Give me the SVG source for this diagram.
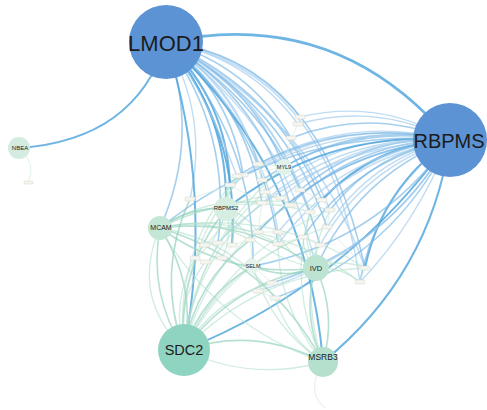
<svg xmlns="http://www.w3.org/2000/svg" width="487" height="410" viewBox="0 0 487 410">
<style>
path{fill:none;stroke-linecap:round}
.b1{stroke:#4aa2dc;stroke-width:2;stroke-opacity:.8}
.b2{stroke:#74b5e5;stroke-width:1.6;stroke-opacity:.65}
.b3{stroke:#a5cdee;stroke-width:1.4;stroke-opacity:.7}
.g1{stroke:#86ccb5;stroke-width:1.6;stroke-opacity:.6}
.g2{stroke:#b3dfcc;stroke-width:1.3;stroke-opacity:.6}
.g3{stroke:#d9ede3;stroke-width:1;stroke-opacity:.8}
.big{fill:#5b93d4}
.t{font-family:"Liberation Sans",Arial,sans-serif;fill:#1b1b1b;text-anchor:middle}
.s{fill:#f6f6f1;stroke:#cdcdc2;stroke-width:.4}
</style>
<g id="connectors">
<path class="b1" style="stroke-width:2.6" d="M166,42 Q337,6 450,140"/>
<path class="b1" d="M166,42 Q135,140 19,148"/>
<path class="g3" d="M19,148 Q38,165 28,182"/>
<path class="b3" d="M166,42 Q248,53 300,117"/>
<path class="b3" d="M166,42 Q248,57 298,124"/>
<path class="b2" d="M166,42 Q248,65 291,138"/>
<path class="b2" d="M166,42 Q250,82 284,167"/>
<path class="b3" d="M166,42 Q236,85 258,164"/>
<path class="b2" d="M166,42 Q231,93 243,175"/>
<path class="b1" d="M166,42 Q227,101 230,185"/>
<path class="b1" d="M166,42 Q229,114 226,209"/>
<path class="b3" d="M166,42 Q263,89 300,190"/>
<path class="b2" d="M166,42 Q261,99 290,205"/>
<path class="b3" d="M166,42 Q272,98 310,212"/>
<path class="b2" d="M166,42 Q276,90 322,200"/>
<path class="b3" d="M166,42 Q282,93 330,210"/>
<path class="b2" d="M166,42 Q284,102 327,227"/>
<path class="b3" d="M166,42 Q260,115 278,232"/>
<path class="b2" d="M166,42 Q262,121 278,244"/>
<path class="b1" d="M166,42 Q240,130 232,245"/>
<path class="b2" d="M166,42 Q232,132 218,243"/>
<path class="b2" d="M166,42 Q201,136 160,228"/>
<path class="b3" d="M166,42 Q209,116 190,199"/>
<path class="b2" d="M166,42 Q255,138 253,266"/>
<path class="b3" d="M166,42 Q286,125 316,268"/>
<path class="b1" d="M166,42 Q307,169 323,362"/>
<path class="b1" d="M166,42 Q214,194 184,350"/>
<path class="b3" d="M166,42 Q311,115 365,268"/>
<path class="b2" d="M166,42 Q284,113 320,245"/>
<path class="b3" d="M166,42 Q242,92 262,180"/>
<path class="b2" d="M166,42 Q246,103 262,203"/>
<path class="b3" d="M166,42 Q200,80 237,176"/>
<path class="b3" d="M166,42 Q330,70 360,282"/>
<path class="b2" d="M166,42 Q320,60 365,268"/>
<path class="b3" d="M300,117 Q380,98 450,140"/>
<path class="b3" d="M298,124 Q377,102 450,140"/>
<path class="b2" d="M291,138 Q371,107 450,140"/>
<path class="b2" d="M284,167 Q361,121 450,140"/>
<path class="b3" d="M258,164 Q349,114 450,140"/>
<path class="b2" d="M262,180 Q348,122 450,140"/>
<path class="b3" d="M265,192 Q347,129 450,140"/>
<path class="b2" d="M300,190 Q365,135 450,140"/>
<path class="b3" d="M281,198 Q354,135 450,140"/>
<path class="b2" d="M290,205 Q357,141 450,140"/>
<path class="b3" d="M310,212 Q366,148 450,140"/>
<path class="b1" d="M322,200 Q374,144 450,140"/>
<path class="b2" d="M330,210 Q376,151 450,140"/>
<path class="b3" d="M327,227 Q371,159 450,140"/>
<path class="b1" d="M226,209 Q324,130 450,140"/>
<path class="b3" d="M262,203 Q343,134 450,140"/>
<path class="b2" d="M258,232 Q336,148 450,140"/>
<path class="b3" d="M278,232 Q346,152 450,140"/>
<path class="b2" d="M250,240 Q330,150 450,140"/>
<path class="b3" d="M278,244 Q343,158 450,140"/>
<path class="b2" d="M303,237 Q357,159 450,140"/>
<path class="b3" d="M320,245 Q364,167 450,140"/>
<path class="b1" d="M365,268 Q382,187 450,140"/>
<path class="b2" d="M360,282 Q377,193 450,140"/>
<path class="b2" d="M316,268 Q357,177 450,140"/>
<path class="b3" d="M243,175 Q340,116 450,140"/>
<path class="b2" d="M237,176 Q336,115 450,140"/>
<path class="b3" d="M230,185 Q331,119 450,140"/>
<path class="b2" d="M160,228 Q288,126 450,140"/>
<path class="b3" d="M218,243 Q313,145 450,140"/>
<path class="b1" d="M450,140 Q347,285 184,350"/>
<path class="b1" d="M450,140 Q430,275 323,362"/>
<path class="b2" d="M450,140 Q390,247 272,283"/>
<path class="b2" d="M450,140 Q394,254 275,298"/>
<path class="b3" d="M450,140 Q384,254 258,291"/>
<path class="b2" d="M450,140 Q377,243 253,266"/>
<path class="b3" d="M450,140 Q415,225 360,282"/>
<path class="g1" d="M160,228 Q197,285 184,350"/>
<path class="g1" d="M184,350 Q148,293 160,228"/>
<path class="g2" d="M184,350 Q130,296 160,228"/>
<path class="g1" d="M160,228 Q247,217 316,268"/>
<path class="g2" d="M160,228 Q223,213 278,244"/>
<path class="g2" d="M160,228 Q233,190 310,212"/>
<path class="g2" d="M160,228 Q242,185 330,210"/>
<path class="g1" d="M160,228 Q268,261 323,362"/>
<path class="g2" d="M160,228 Q233,240 275,298"/>
<path class="g1" d="M316,268 Q231,279 160,228"/>
<path class="g2" d="M160,228 Q207,196 262,203"/>
<path class="g1" d="M160,228 Q190,206 226,209"/>
<path class="g2" d="M160,228 Q208,216 250,240"/>
<path class="g2" d="M160,228 Q272,207 365,268"/>
<path class="g2" d="M160,228 Q272,215 360,282"/>
<path class="g1" d="M184,350 Q195,282 250,240"/>
<path class="g1" d="M184,350 Q176,272 226,209"/>
<path class="g2" d="M184,350 Q193,261 262,203"/>
<path class="g1" d="M184,350 Q202,295 253,266"/>
<path class="g1" d="M184,350 Q233,283 316,268"/>
<path class="g2" d="M184,350 Q229,251 330,210"/>
<path class="g2" d="M184,350 Q258,273 365,268"/>
<path class="g2" d="M184,350 Q208,256 290,205"/>
<path class="g2" d="M184,350 Q197,239 284,167"/>
<path class="g2" d="M184,350 Q192,255 265,192"/>
<path class="g1" d="M184,350 Q254,326 323,362"/>
<path class="g2" d="M323,362 Q251,382 184,350"/>
<path class="g2" d="M184,350 Q171,302 195,258"/>
<path class="g2" d="M184,350 Q176,302 205,262"/>
<path class="g2" d="M184,350 Q214,299 272,283"/>
<path class="g2" d="M184,350 Q220,270 303,237"/>
<path class="g2" d="M184,350 Q230,260 327,227"/>
<path class="g1" d="M184,350 Q156,273 190,199"/>
<path class="g2" d="M184,350 Q174,258 230,185"/>
<path class="g2" d="M184,350 Q178,251 243,175"/>
<path class="g1" d="M323,362 Q301,312 316,268"/>
<path class="g1" d="M316,268 Q337,314 323,362"/>
<path class="g2" d="M323,362 Q275,304 278,232"/>
<path class="g2" d="M323,362 Q270,327 253,266"/>
<path class="g2" d="M323,362 Q296,282 330,210"/>
<path class="g2" d="M323,362 Q216,325 160,228"/>
<path class="g2" d="M323,362 Q287,337 275,298"/>
<path class="g2" d="M323,362 Q287,287 310,212"/>
<path class="g3" style="stroke:#e3eee8;stroke-width:1.2" d="M323,362 Q305,392 325,408"/>
<path class="g2" d="M316,268 Q301,241 310,212"/>
<path class="g2" d="M316,268 Q289,257 278,232"/>
<path class="g2" d="M316,268 Q303,255 303,237"/>
<path class="g1" d="M316,268 Q284,280 253,266"/>
<path class="g2" d="M316,268 Q313,255 320,245"/>
<path class="g2" d="M316,268 Q340,258 365,268"/>
<path class="g2" d="M316,268 Q340,266 360,282"/>
<path class="g2" d="M316,268 Q258,257 226,209"/>
<path class="g2" d="M226,209 Q227,189 243,175"/>
<path class="g2" d="M226,209 Q222,196 230,185"/>
<path class="g2" d="M226,209 Q246,214 258,232"/>
<path class="g2" d="M226,209 Q236,226 232,245"/>
<path class="g2" d="M226,209 Q222,231 205,245"/>
<path class="g2" d="M226,209 Q220,240 195,258"/>
<path class="g2" d="M226,209 Q251,193 281,198"/>
<path class="g2" d="M226,209 Q224,191 237,176"/>
<path class="g2" d="M226,209 Q233,235 222,258"/>
<path class="g3" d="M258,164 L262,180 L265,192 L281,198 L290,205 L310,212"/>
<path class="g3" d="M243,175 L230,185 L262,203 L258,232 L250,240 L232,245 L218,243 L205,245 L195,258 L205,262 L222,258 L232,245"/>
<path class="g3" d="M278,232 L278,244 L303,237 L320,245"/>
<path class="g3" d="M300,190 L322,200 L330,210 L327,227 L365,268 L360,282"/>
<path class="g3" d="M284,167 L258,164 M284,167 L300,190 M284,167 L291,138 L298,124 L300,117"/>
<path class="g3" d="M253,266 L250,240 M253,266 L272,283 L258,291 L275,298"/>
<path class="g3" d="M258,232 L278,232 M262,203 L290,205 M190,199 L230,185 M243,175 L284,167"/>
</g>
<g id="n-small">
<rect class="s" x="24" y="181" width="9" height="3" rx="1"/>
<rect class="s" x="295" y="115" width="10" height="4" rx="1"/>
<rect class="s" x="293" y="122" width="10" height="4" rx="1"/>
<rect class="s" x="286" y="136" width="10" height="4" rx="1"/>
<rect class="s" x="253" y="162" width="10" height="4" rx="1"/>
<rect class="s" x="238" y="173" width="10" height="4" rx="1"/>
<rect class="s" x="232" y="174" width="10" height="4" rx="1"/>
<rect class="s" x="257" y="178" width="10" height="4" rx="1"/>
<rect class="s" x="225" y="183" width="10" height="4" rx="1"/>
<rect class="s" x="260" y="190" width="10" height="4" rx="1"/>
<rect class="s" x="295" y="188" width="10" height="4" rx="1"/>
<rect class="s" x="276" y="196" width="10" height="4" rx="1"/>
<rect class="s" x="257" y="201" width="10" height="4" rx="1"/>
<rect class="s" x="285" y="203" width="10" height="4" rx="1"/>
<rect class="s" x="305" y="210" width="10" height="4" rx="1"/>
<rect class="s" x="317" y="198" width="10" height="4" rx="1"/>
<rect class="s" x="325" y="208" width="10" height="4" rx="1"/>
<rect class="s" x="322" y="225" width="10" height="4" rx="1"/>
<rect class="s" x="253" y="230" width="10" height="4" rx="1"/>
<rect class="s" x="273" y="230" width="10" height="4" rx="1"/>
<rect class="s" x="245" y="238" width="10" height="4" rx="1"/>
<rect class="s" x="227" y="243" width="10" height="4" rx="1"/>
<rect class="s" x="213" y="241" width="10" height="4" rx="1"/>
<rect class="s" x="200" y="243" width="10" height="4" rx="1"/>
<rect class="s" x="273" y="242" width="10" height="4" rx="1"/>
<rect class="s" x="298" y="235" width="10" height="4" rx="1"/>
<rect class="s" x="190" y="256" width="10" height="4" rx="1"/>
<rect class="s" x="217" y="256" width="10" height="4" rx="1"/>
<rect class="s" x="200" y="260" width="10" height="4" rx="1"/>
<rect class="s" x="267" y="281" width="10" height="4" rx="1"/>
<rect class="s" x="253" y="289" width="10" height="4" rx="1"/>
<rect class="s" x="270" y="296" width="10" height="4" rx="1"/>
<rect class="s" x="360" y="266" width="10" height="4" rx="1"/>
<rect class="s" x="355" y="280" width="10" height="4" rx="1"/>
<rect class="s" x="185" y="197" width="10" height="4" rx="1"/>
<rect class="s" x="315" y="243" width="10" height="4" rx="1"/>
</g>
<g id="n-LMOD1"><circle class="big" cx="166" cy="42" r="37"/><text class="t" x="166" y="51" font-size="22">LMOD1</text></g>
<g id="n-RBPMS"><circle class="big" cx="450" cy="140" r="37"/><text class="t" x="449" y="148" font-size="20">RBPMS</text></g>
<g id="n-NBEA"><circle cx="19" cy="148" r="11" fill="#d4ece0"/><text class="t" x="20" y="150" font-size="6">NBEA</text></g>
<g id="n-MCAM"><circle cx="160" cy="228" r="12" fill="#c3e6d6"/><text class="t" x="161" y="230" font-size="7">MCAM</text></g>
<g id="n-RBPMS2"><circle cx="226" cy="209" r="12" fill="#d6eee2"/><text class="t" x="226" y="210" font-size="6">RBPMS2</text></g>
<g id="n-MYL9"><circle cx="284" cy="167" r="8" fill="#dff1e8"/><text class="t" x="284" y="169" font-size="5.5">MYL9</text></g>
<g id="n-SELM"><circle cx="253" cy="266" r="7" fill="#e6f3ec"/><text class="t" x="253" y="268" font-size="5.5">SELM</text></g>
<g id="n-IVD"><circle cx="316" cy="268" r="13" fill="#bde3d2"/><text class="t" x="316" y="271" font-size="7.5">IVD</text></g>
<g id="n-SDC2"><circle cx="184" cy="350" r="26" fill="#8fd4c1"/><text class="t" x="184" y="355" font-size="14.5">SDC2</text></g>
<g id="n-MSRB3"><circle cx="323" cy="362" r="15" fill="#b4e0cd"/><text class="t" x="323" y="360" font-size="8.5">MSRB3</text></g>
</svg>
